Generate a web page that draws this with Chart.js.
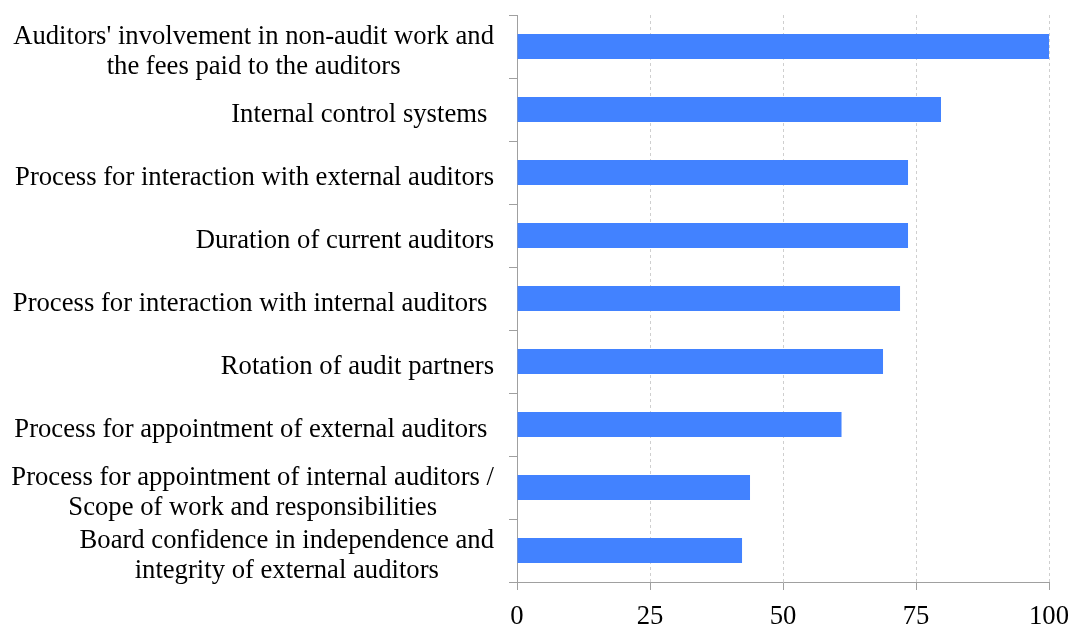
<!DOCTYPE html>
<html>
<head>
<meta charset="utf-8">
<script src="https://cdn.jsdelivr.net/npm/chart.js@4.4.0/dist/chart.umd.min.js"></script>
<style>
  html, body { margin: 0; padding: 0; background: #fff; }
</style>
</head>
<body>
<canvas id="chart" width="1070" height="626"></canvas>
<script>
const categories = [
  ["Auditors' involvement in non-audit work and", "the fees paid to the auditors"],
  "Internal control systems ",
  "Process for interaction with external auditors",
  "Duration of current auditors",
  "Process for interaction with internal auditors ",
  "Rotation of audit partners",
  "Process for appointment of external auditors ",
  ["Process for appointment of internal auditors /", "Scope of work and responsibilities"],
  ["Board confidence in independence and", "integrity of external auditors"]
];
const values = [100, 79.7, 73.5, 73.5, 72, 68.8, 61, 43.8, 42.3];
const xTicks = [0, 25, 50, 75, 100];

const FONT = '"Liberation Serif", "Times New Roman", serif';
const SIZE = 26.67;

// category labels drawn by hand so the lines of a two-line label are centred on each other
const categoryLabels = {
  id: 'categoryLabels',
  afterDraw(chart) {
    const ctx = chart.ctx;
    const y = chart.scales.y;
    const right = chart.chartArea.left - 23;
    ctx.save();
    ctx.font = SIZE + 'px ' + FONT;
    ctx.fillStyle = '#000';
    ctx.textAlign = 'center';
    ctx.textBaseline = 'alphabetic';
    categories.forEach((label, i) => {
      const lines = Array.isArray(label) ? label : [label];
      const widest = Math.max(...lines.map(l => ctx.measureText(l).width));
      const cx = right - widest / 2;
      const mid = y.getPixelForTick(i);
      lines.forEach((line, j) => {
        ctx.fillText(line, cx, mid + 12 + (j - (lines.length - 1) / 2) * 30);
      });
    });
    ctx.restore();
  }
};

new Chart(document.getElementById('chart').getContext('2d'), {
  type: 'bar',
  data: {
    labels: categories,
    datasets: [{
      data: values,
      backgroundColor: '#4282ff',
      barPercentage: 0.4,
      categoryPercentage: 1
    }]
  },
  options: {
    indexAxis: 'y',
    responsive: false,
    animation: false,
    layout: { padding: { top: 15, right: 21, left: 0, bottom: 0 } },
    plugins: { legend: { display: false }, tooltip: { enabled: false } },
    scales: {
      x: {
        min: 0,
        max: 100,
        afterBuildTicks(scale) { scale.ticks = xTicks.map(v => ({ value: v })); },
        afterFit(scale) {
          scale.height = 44;
          scale.paddingLeft = 0;
          scale.paddingRight = 0;
        },
        grid: {
          color: ctx => ctx.index === 0 ? 'rgba(0,0,0,0)' : '#cfcfcf',
          tickColor: '#a0a0a0',
          tickLength: 8,
          tickBorderDash: []
        },
        border: { color: '#a0a0a0', dash: [3, 3] },
        ticks: {
          color: '#000',
          padding: 11,
          font: { family: FONT, size: SIZE }
        }
      },
      y: {
        afterFit(scale) { scale.width = 517; },
        grid: {
          drawOnChartArea: false,
          tickColor: '#a0a0a0',
          tickLength: 8,
          offset: true
        },
        border: { color: '#a0a0a0' },
        ticks: { display: false }
      }
    }
  },
  plugins: [categoryLabels]
});
</script>
</body>
</html>
